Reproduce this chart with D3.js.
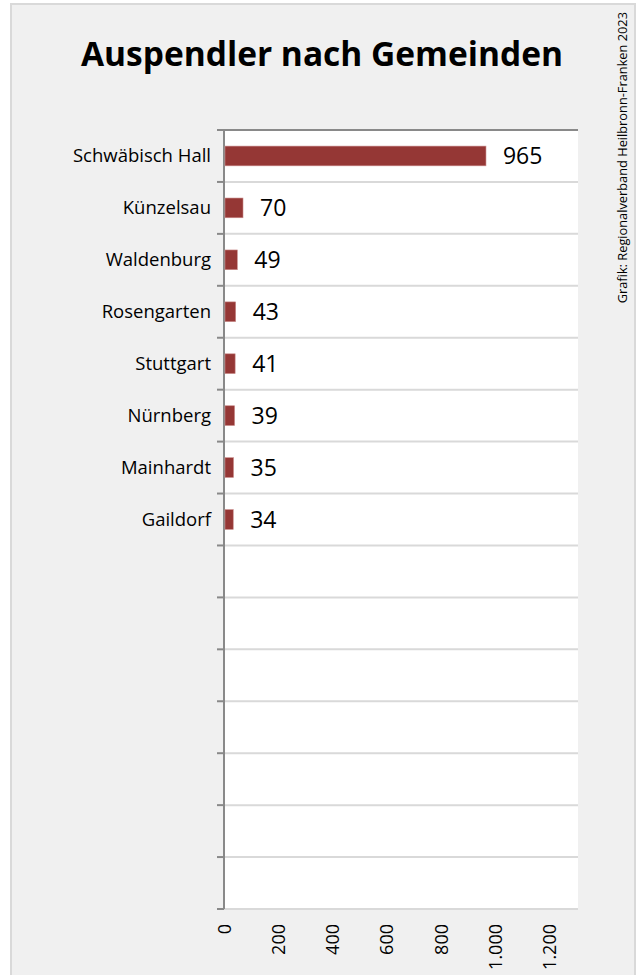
<!DOCTYPE html>
<html>
<head>
<meta charset="utf-8">
<script src="https://cdn.jsdelivr.net/npm/d3@7"></script>
<style>
  html, body { margin: 0; padding: 0; background: #fff; }
  text { font-family: "Open Sans", sans-serif; fill: #000; }
</style>
</head>
<body>
<svg id="chart" width="639" height="975"></svg>
<script>
// data (15 category slots, 7 left empty)
const gemeinden = ["Schwäbisch Hall", "Künzelsau", "Waldenburg", "Rosengarten", "Stuttgart", "Nürnberg", "Mainhardt", "Gaildorf", "", "", "", "", "", "", ""];
const auspendler = [965, 70, 49, 43, 41, 39, 35, 34, null, null, null, null, null, null, null];
const xTicks = [0, 200, 400, 600, 800, 1000, 1200];
const title = "Auspendler nach Gemeinden";
const source = "Grafik: Regionalverband Heilbronn-Franken 2023";

const svg = d3.select("#chart");
const fmt = d3.formatLocale({ decimal: ",", thousands: ".", grouping: [3], currency: ["", "€"] }).format(",d");

// panel
svg.append("rect")
  .attr("x", 11).attr("y", 4)
  .attr("width", 624).attr("height", 990)
  .attr("fill", "#f0f0f0")
  .attr("stroke", "#d9d9d9").attr("stroke-width", 2);

const plot = { left: 224, right: 578, top: 130, bottom: 909 };

const x = d3.scaleLinear().domain([0, 1304]).range([plot.left, plot.right]);
const y = d3.scaleBand().domain(d3.range(gemeinden.length)).range([plot.top, plot.bottom]).paddingInner(0.62).paddingOuter(0.31);
const rows = d3.scaleLinear().domain([0, gemeinden.length]).range([plot.top, plot.bottom]);

// plot area
svg.append("rect")
  .attr("x", plot.left).attr("y", plot.top)
  .attr("width", plot.right - plot.left).attr("height", plot.bottom - plot.top)
  .attr("fill", "#fff");

// horizontal gridlines at category boundaries
svg.append("g")
  .selectAll("line")
  .data(d3.range(1, gemeinden.length + 1))
  .join("line")
  .attr("x1", plot.left).attr("x2", plot.right)
  .attr("y1", d => rows(d)).attr("y2", d => rows(d))
  .attr("stroke", "#d9d9d9").attr("stroke-width", 2);

// top line
svg.append("line")
  .attr("x1", plot.left - 7).attr("x2", plot.right)
  .attr("y1", plot.top).attr("y2", plot.top)
  .attr("stroke", "#898989").attr("stroke-width", 2);

// category axis with ticks between categories
svg.append("line")
  .attr("x1", plot.left).attr("x2", plot.left)
  .attr("y1", plot.top).attr("y2", plot.bottom)
  .attr("stroke", "#898989").attr("stroke-width", 2);
svg.append("g")
  .selectAll("line")
  .data(d3.range(0, gemeinden.length + 1))
  .join("line")
  .attr("x1", plot.left - 7).attr("x2", plot.left)
  .attr("y1", d => rows(d)).attr("y2", d => rows(d))
  .attr("stroke", "#898989").attr("stroke-width", 2);

// bars
const data = gemeinden.map((g, i) => ({ i, name: g, value: auspendler[i] }));
svg.append("g")
  .selectAll("rect")
  .data(data.filter(d => d.value != null))
  .join("rect")
  .attr("x", x(0) + 1)
  .attr("y", d => y(d.i))
  .attr("width", d => x(d.value) - x(0) - 1)
  .attr("height", y.bandwidth())
  .attr("fill", "#953735")
  .attr("stroke", "#c98a89").attr("stroke-width", 0.6);

// value labels
svg.append("g")
  .selectAll("text")
  .data(data.filter(d => d.value != null))
  .join("text")
  .attr("x", d => x(d.value) + 17)
  .attr("y", d => y(d.i) + y.bandwidth() / 2)
  .attr("dy", "0.36em")
  .attr("font-size", 23)
  .text(d => fmt(d.value));

// category labels
svg.append("g")
  .selectAll("text")
  .data(data)
  .join("text")
  .attr("x", 211)
  .attr("y", d => y(d.i) + y.bandwidth() / 2)
  .attr("dy", "0.35em")
  .attr("text-anchor", "end")
  .attr("font-size", 18.5)
  .text(d => d.name);

// value axis labels, rotated
svg.append("g")
  .selectAll("text")
  .data(xTicks)
  .join("text")
  .attr("transform", d => `translate(${x(d) + 6.5},924) rotate(-90)`)
  .attr("text-anchor", "end")
  .attr("font-size", 18)
  .text(d => fmt(d));

// title
svg.append("text")
  .attr("x", 322).attr("y", 66)
  .attr("text-anchor", "middle")
  .attr("font-size", 33.5)
  .attr("font-weight", "bold")
  .text(title);

// source, vertical on the right
svg.append("text")
  .attr("transform", "translate(627,12) rotate(-90)")
  .attr("text-anchor", "end")
  .attr("font-size", 12.8)
  .text(source);
</script>
</body>
</html>
